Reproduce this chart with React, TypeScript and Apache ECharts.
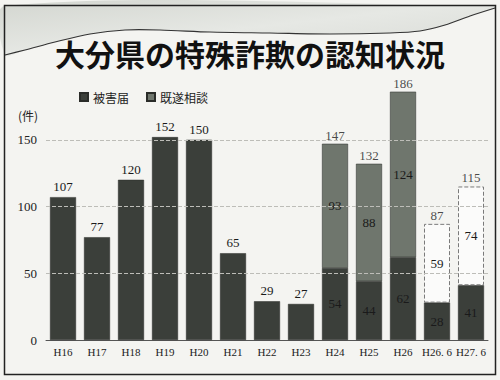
import React, { useEffect, useRef } from "react";
import * as echarts from "echarts";

const categories = ["H16", "H17", "H18", "H19", "H20", "H21", "H22", "H23", "H24", "H25", "H26", "H26. 6", "H27. 6"];
const higaiValues: (number | null)[] = [107, 77, 120, 152, 150, 65, 29, 27, 54, 44, 62, 28, 41];
const kisuiValues: (number | null)[] = [null, null, null, null, null, null, null, null, 93, 88, 124, 59, 74];
const partialYears = ["H26. 6", "H27. 6"];
const yTicks = [0, 50, 100, 150];

const SERIF = "'Liberation Serif', 'DejaVu Serif', serif";
const CJK = "'Noto Sans CJK JP', sans-serif";
const DARK = "#3b3f3a";
const MID = "#6f766d";

export default function App() {
  const ref = useRef<HTMLDivElement>(null);
  useEffect(() => {
    document.body.style.margin = "0";
    const chart = echarts.init(ref.current!, null, { renderer: "svg" });
    const hasKisui = (i: number) => kisuiValues[i] != null;
    const totals = categories.map((_, i) =>
      hasKisui(i) ? (higaiValues[i] as number) + (kisuiValues[i] as number) : null
    );
    const numLabel = {
      fontFamily: SERIF,
      fontSize: 13,
      color: "#1a1a1a",
      textBorderWidth: 0,
      textBorderColor: "transparent",
      textShadowBlur: 0,
    };
    const option: any = {
      animation: false,
      backgroundColor: "#f4f4f1",
      title: {
        text: "大分県の特殊詐欺の認知状況",
        left: "center",
        top: 39,
        padding: 0,
        textStyle: { fontFamily: CJK, fontSize: 30, lineHeight: 28, fontWeight: "bold", color: "#111" },
      },
      legend: {
        data: ["被害届", "既遂相談"],
        left: 74,
        top: 86,
        icon: "rect",
        itemWidth: 8,
        itemHeight: 8,
        itemGap: 17,
        textStyle: { fontFamily: CJK, fontSize: 12, color: "#222" },
      },
      grid: { left: 46, right: 12, top: 73, bottom: 40 },
      xAxis: {
        type: "category",
        data: categories,
        axisTick: { show: false },
        axisLine: { lineStyle: { color: "#555", width: 1 } },
        axisLabel: { interval: 0, fontFamily: SERIF, fontSize: 11, color: "#222", margin: 6 },
      },
      yAxis: {
        type: "value",
        min: 0,
        max: 200,
        interval: 50,
        axisLine: { show: false },
        axisTick: { show: false },
        splitLine: { show: false },
        axisLabel: {
          fontFamily: SERIF,
          fontSize: 13,
          color: "#222",
          margin: 9,
          showMaxLabel: false,
          formatter: (v: number) => (yTicks.includes(v) ? String(v) : ""),
        },
      },
      series: [
        {
          name: "被害届",
          type: "bar",
          stack: "a",
          barWidth: 26,
          itemStyle: { color: DARK, borderColor: "#2a2c29", borderWidth: 0.5 },
          data: higaiValues.map((v, i) => ({
            value: v,
            label: hasKisui(i)
              ? { show: true, position: "inside", ...numLabel }
              : { show: true, position: "top", distance: 4, ...numLabel },
          })),
          markLine: {
            silent: true,
            symbol: "none",
            label: { show: false },
            lineStyle: { color: "#bdbdb8", type: "dashed", width: 1 },
            data: yTicks.filter((t) => t > 0).map((t) => ({ yAxis: t })),
          },
        },
        {
          name: "既遂相談",
          type: "bar",
          stack: "a",
          barWidth: 26,
          itemStyle: { color: MID, borderColor: "#2a2c29", borderWidth: 0.5 },
          data: kisuiValues.map((v, i) => ({
            value: v,
            itemStyle: partialYears.includes(categories[i])
              ? { color: "#fbfbfa", borderColor: "#7a7a7a", borderWidth: 1, borderType: "dashed" }
              : undefined,
            label: { show: v != null, position: "inside", ...numLabel },
          })),
        },
        {
          name: "total",
          type: "scatter",
          symbolSize: 0,
          silent: true,
          itemStyle: { color: "#1a1a1a" },
          data: totals,
          label: { show: true, position: "top", distance: 2, ...numLabel },
        },
      ],
      graphic: [
        {
          type: "polygon",
          z: -1,
          silent: true,
          shape: {
            smooth: 0.3,
            points: [
              [5, 6], [495, 6], [495, 8], [470, 16], [445, 25], [420, 31], [390, 33],
              [330, 34], [270, 33], [210, 32], [160, 30], [125, 30], [90, 34],
              [55, 42], [25, 50], [5, 55],
            ],
          },
          style: {
            fill: new echarts.graphic.LinearGradient(0, 0, 1, 1, [
              { offset: 0, color: "#d3d6d0" },
              { offset: 0.5, color: "#e6e8e4" },
              { offset: 1, color: "#d8dad5" },
            ]),
          },
        },
        {
          type: "polyline",
          z: -1,
          silent: true,
          shape: {
            smooth: 0.3,
            points: [
              [5, 55], [25, 50], [55, 42], [90, 34], [125, 30], [160, 30], [210, 32],
              [270, 33], [330, 34], [390, 33], [420, 31], [445, 25], [470, 16], [495, 8],
            ],
          },
          style: { stroke: "#333", lineWidth: 1.2, fill: null },
        },
        {
          type: "rect",
          z: 10,
          silent: true,
          shape: { x: 4.5, y: 5.5, width: 491, height: 369 },
          style: { stroke: "#222", lineWidth: 1.5, fill: null },
        },
        {
          type: "text",
          left: 18,
          top: 109,
          silent: true,
          style: { text: "(件)", fontFamily: CJK, fontSize: 12, fill: "#222" },
        },
      ],
    };
    chart.setOption(option);
    return () => chart.dispose();
  }, []);
  return <div ref={ref} style={{ width: 500, height: 380 }} />;
}
